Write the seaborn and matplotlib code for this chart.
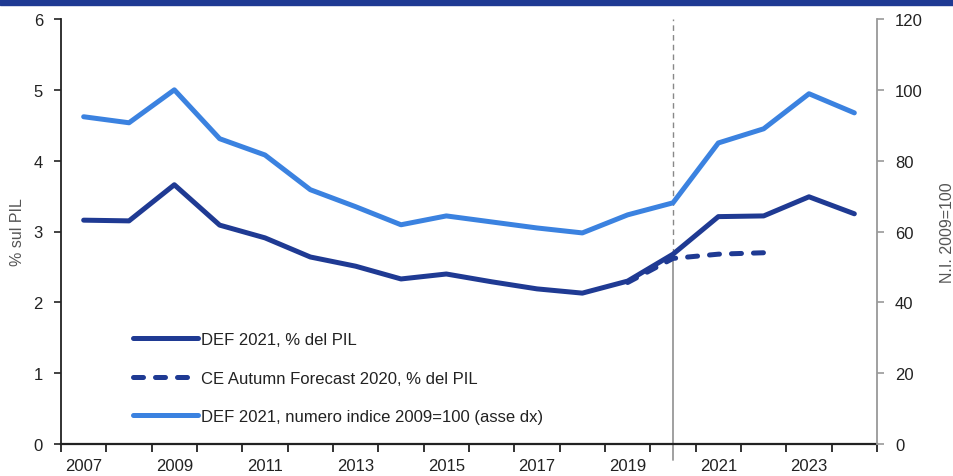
import matplotlib.pyplot as plt
import matplotlib.patches as mpatches
import pandas as pd
import seaborn as sns

# dati
anni = list(range(2007, 2025))
def_pil = [3.16, 3.15, 3.66, 3.09, 2.91, 2.64, 2.51, 2.33, 2.40, 2.29,
           2.19, 2.13, 2.30, 2.68, 3.21, 3.22, 3.49, 3.25]
ce_anni = [2019, 2020, 2021, 2022]
ce_pil = [2.28, 2.62, 2.68, 2.70]
indice = [92.4, 90.7, 100.0, 86.2, 81.6, 71.8, 67.0, 61.9, 64.4, 62.7,
          61.0, 59.6, 64.7, 68.1, 85.0, 89.0, 98.9, 93.5]
etichette_x = [str(a) for a in range(2007, 2025, 2)]

blu_scuro = "#1f3a93"
blu_chiaro = "#3b82e0"

df_def = pd.DataFrame({"anno": anni, "pil": def_pil, "indice": indice})
df_ce = pd.DataFrame({"anno": ce_anni, "pil": ce_pil})

sns.set_style("white")
plt.rcParams['font.family'] = ['Liberation Sans', 'DejaVu Sans']
plt.rcParams['font.size'] = 12

fig = plt.figure(figsize=(9.54, 4.77), dpi=100)
ax = fig.add_axes([61 / 954, 32 / 477, 816 / 954, 425 / 477])
ax2 = ax.twinx()

# banda blu in alto
fig.patches.append(mpatches.Rectangle((0, 1 - 6 / 477), 1, 6 / 477, transform=fig.transFigure,
                                      color=blu_scuro, zorder=0))

sns.lineplot(data=df_def, x="anno", y="pil", ax=ax, color=blu_scuro, lw=3.6,
             solid_capstyle="round", label="DEF 2021, % del PIL", legend=False)
sns.lineplot(data=df_ce, x="anno", y="pil", ax=ax, color=blu_scuro, lw=3.6,
             dashes=False, legend=False)
ax.lines[-1].set_linestyle((0, (2.0, 2.4)))
ax.lines[-1].set_dash_capstyle("round")
ax.lines[-1].set_label("CE Autumn Forecast 2020, % del PIL")
sns.lineplot(data=df_def, x="anno", y="indice", ax=ax2, color=blu_chiaro, lw=3.6,
             solid_capstyle="round", label="DEF 2021, numero indice 2009=100 (asse dx)", legend=False)

# linea verticale 2020
ax.plot([2020, 2020], [2.68, 6], color="#888888", lw=1, ls=(0, (4, 3)), zorder=1)
ax.plot([2020, 2020], [-0.22, 2.68], color="#999999", lw=1.3, zorder=1, clip_on=False)

ax.set_xlim(2006.5, 2024.5)
ax.set_ylim(0, 6)
ax2.set_ylim(0, 120)
ax.set_xticks([a - 0.5 for a in anni] + [2024.5])
ax.set_xticklabels([])
ax.set_xticks(list(range(2007, 2025, 2)), minor=True)
ax.set_xticklabels(etichette_x, minor=True)
ax.tick_params(axis="x", which="major", direction="out", length=6, width=1.3, color="#222222", bottom=True)
ax.tick_params(axis="x", which="minor", length=0, pad=10, labelsize=12, labelcolor="#222222")
ax.set_yticks(range(0, 7))
ax.tick_params(axis="y", direction="out", length=5, width=1.2, color="#222222", left=True,
               pad=8, labelsize=12, labelcolor="#222222")
ax2.set_yticks(range(0, 121, 20))
ax2.tick_params(axis="y", direction="out", length=5, width=1.2, color="#999999", right=True,
                pad=8, labelsize=12, labelcolor="#222222")

ax.set_xlabel("")
ax.set_ylabel("% sul PIL", color="#555555", fontsize=11.5, labelpad=6)
ax2.set_ylabel("N.I. 2009=100", color="#555555", fontsize=11.5, labelpad=12)

for s in ["top"]:
    ax.spines[s].set_visible(False)
    ax2.spines[s].set_visible(False)
ax.spines["right"].set_visible(False)
ax.spines["left"].set_color("#222222")
ax.spines["left"].set_linewidth(1.3)
ax.spines["bottom"].set_color("#222222")
ax.spines["bottom"].set_linewidth(1.6)
ax2.spines["left"].set_visible(False)
ax2.spines["bottom"].set_visible(False)
ax2.spines["right"].set_color("#999999")
ax2.spines["right"].set_linewidth(1.3)

h1, l1 = ax.get_legend_handles_labels()
h2, l2 = ax2.get_legend_handles_labels()
ax2.legend(h1 + h2, l1 + l2, loc="lower left", bbox_to_anchor=(0.07, 0.012), frameon=False,
           handlelength=3.9, handletextpad=0.15, labelspacing=1.4, fontsize=12,
           labelcolor="#222222")

fig.savefig("out.png", dpi=100)
